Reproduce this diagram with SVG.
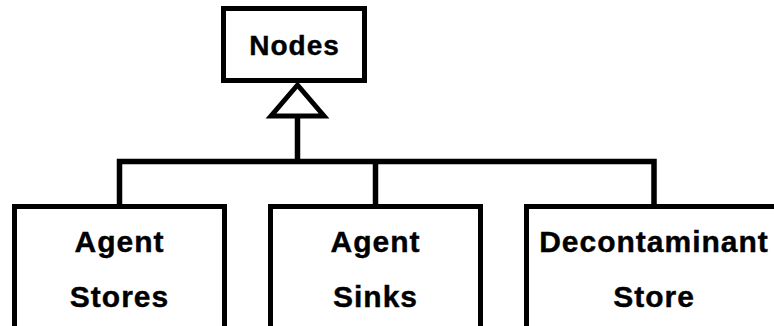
<svg xmlns="http://www.w3.org/2000/svg" width="774" height="326" viewBox="0 0 774 326">
  <style>
    .box { fill: #ffffff; stroke: #000000; stroke-width: 5; }
    .wire { fill: none; stroke: #000000; stroke-width: 5.5; }
    .head { fill: #ffffff; stroke: #000000; stroke-width: 5; stroke-linejoin: miter; }
    .label { font-family: "Liberation Sans", Arial, sans-serif; font-weight: bold; font-size: 30px; letter-spacing: 1px; fill: #000000; stroke: #000000; stroke-width: 0.4; text-anchor: middle; }
    .title { font-size: 28px; }
  </style>
  <rect width="774" height="326" fill="#ffffff"/>

  <!-- generalization connectors -->
  <g id="connectors">
    <path class="wire" d="M297.5 116 V161.5"/>
    <path class="wire" d="M119.5 205 V161.5 H654 V205"/>
    <path class="wire" d="M375.5 161.5 V205"/>
    <polygon class="head" points="297.5,85 271,116 324,116"/>
  </g>

  <g id="nodes">
    <rect class="box" x="223.5" y="8.5" width="141" height="72"/>
    <text class="label title" x="294.5" y="55">Nodes</text>
  </g>

  <g id="agent-stores">
    <rect class="box" x="14.5" y="206.5" width="210" height="140"/>
    <text class="label" x="119.5" y="251.5">Agent</text>
    <text class="label" x="119.5" y="306.5">Stores</text>
  </g>

  <g id="agent-sinks">
    <rect class="box" x="270.5" y="206.5" width="210" height="140"/>
    <text class="label" x="375.5" y="251.5">Agent</text>
    <text class="label" x="375.5" y="306.5">Sinks</text>
  </g>

  <g id="decontaminant-store">
    <rect class="box" x="526.5" y="206.5" width="264" height="140"/>
    <text class="label" x="654" y="251.5">Decontaminant</text>
    <text class="label" x="654" y="306.5">Store</text>
  </g>
</svg>
